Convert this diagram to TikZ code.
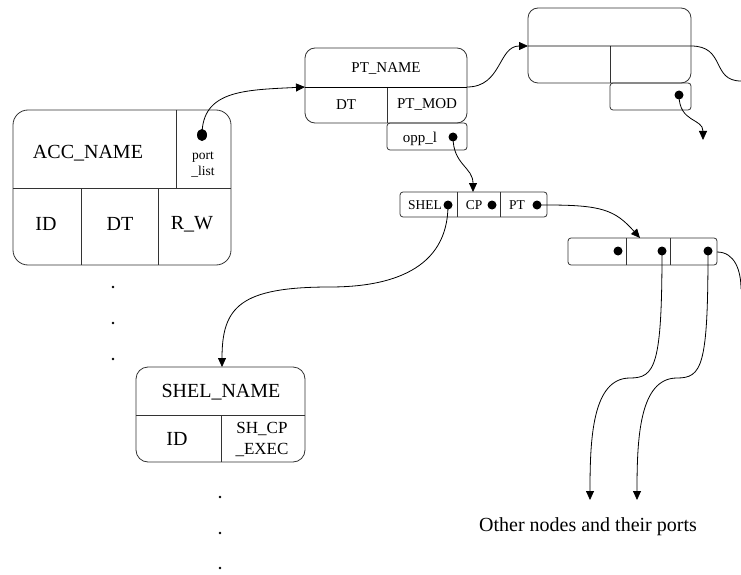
\documentclass[tikz,border=0pt]{standalone}
\usepackage{fontspec}
\setmainfont{Liberation Serif}
\usetikzlibrary{arrows.meta,shapes.geometric}
\begin{document}
\begin{tikzpicture}[x=1pt,y=-1pt,
  box/.style={draw=black!80,line width=0.8pt},
  plainline/.style={draw=black,line width=0.8pt},
  conn/.style={draw=black,line width=0.8pt,-{Triangle[length=9pt,width=8pt]}},
  dotn/.style={circle,fill=black,inner sep=0pt,minimum size=9pt},
  bigdot/.style={ellipse,fill=black,inner sep=0pt,minimum width=10pt,minimum height=12pt},
  vdot/.style={circle,fill=black,inner sep=0pt,minimum size=2.8pt},
  tbig/.style={font=\fontsize{20}{22}\selectfont,inner sep=0pt},
  tmid/.style={font=\fontsize{15}{17}\selectfont,inner sep=0pt},
  tsmall/.style={font=\fontsize{13.5}{16}\selectfont,inner sep=0pt},
  tport/.style={font=\fontsize{13.5}{16}\selectfont,inner sep=0pt,align=center},
  tsh/.style={font=\fontsize{17}{21}\selectfont,inner sep=0pt,align=center}]
\useasboundingbox (0,0) rectangle (741,575);

% ACC box
\draw[box,rounded corners=15pt] (13,110) rectangle (231,265);
\draw[box] (13,188) -- (231,188) (176,110) -- (176,188) (81,188) -- (81,265) (158,188) -- (158,265);
\node[tbig] (accname) at (88,153) {ACC\_NAME};
\node[tport] (portlist) at (203,165) {port\\\_list};
\node[tbig] (accid) at (46,224) {ID};
\node[tbig] (accdt) at (120,224) {DT};
\node[tbig] (accrw) at (192,224) {R\_W};
\node[bigdot] (accdot) at (202,135) {};

% PT_NAME box
\draw[box,rounded corners=10pt] (305,48) rectangle (467,123);
\draw[box] (387,87) -- (387,123);
\draw[box,rounded corners=3pt] (387,123) rectangle (467,150);
\node[tmid] (ptname) at (386,69) {PT\_NAME};
\node[tmid] (ptdt) at (346,105) {DT};
\node[tmid] (ptmod) at (427,105) {PT\_MOD};
\node[tmid] (opp) at (420,139) {opp\_l};
\node[dotn] (oppdot) at (453,137) {};
\coordinate (ptL) at (305,87);
\coordinate (ptR) at (467,87);

% top right box
\draw[box,rounded corners=10pt] (528,8) rectangle (691,83);
\draw[box] (610,46) -- (610,83);
\draw[box,rounded corners=3pt] (610,83) rectangle (691,110);
\node[dotn] (trdot) at (679,95) {};
\coordinate (trL) at (528,46);
\coordinate (trR) at (691,46);
\coordinate (trend) at (741,81);
\coordinate (trtip) at (703,140);

% SHEL / CP / PT box
\draw[box,rounded corners=3pt] (400,192) rectangle (547,217);
\draw[box] (457,192) -- (457,217) (500,192) -- (500,217);
\node[tsmall] (shel) at (425,205) {SHEL};
\node[tsmall] (cp) at (474,205) {CP};
\node[tsmall] (pt) at (517,205) {PT};
\node[dotn] (sheldot) at (448,205) {};
\node[dotn] (cpdot) at (492,205) {};
\node[dotn] (ptdot) at (537,205) {};
\coordinate (cptop) at (473,192);

% right box
\draw[box,rounded corners=3pt] (568,238) rectangle (717,265);
\draw[box] (626,238) -- (626,265) (670,238) -- (670,265);
\node[dotn] (rd1) at (618,251) {};
\node[dotn] (rd2) at (662,251) {};
\node[dotn] (rd3) at (708,251) {};
\coordinate (rtop) at (640,238);
\coordinate (rR) at (717,252);
\coordinate (rend) at (741,289);
\coordinate (tipA) at (590,500);
\coordinate (tipB) at (637,500);

% SHEL_NAME box
\draw[box,rounded corners=12pt] (136,367) rectangle (305,462);
\draw[box] (136,415) -- (305,415) (221,415) -- (221,462);
\node[tbig] (shelname) at (221,392) {SHEL\_NAME};
\node[tbig] (shid) at (177,439) {ID};
\node[tsh] (shcp) at (262,439) {SH\_CP\\\_EXEC};
\coordinate (sheltop) at (222,367);

% ellipsis dots
\node[vdot] (v1) at (113,287) {};
\node[vdot] (v2) at (113,323) {};
\node[vdot] (v3) at (113,359) {};
\node[vdot] (v4) at (220,497) {};
\node[vdot] (v5) at (220,533) {};
\node[vdot] (v6) at (220,568) {};

\node[tbig] (other) at (588,527) {Other nodes and their ports};

% connectors
\draw[conn] (accdot.center) .. controls +(0,-45) and +(-60,3) .. (ptL);
\draw[plainline] (ptL) -- (ptR);
\draw[conn] (ptR) .. controls +(35,0) and +(-30,0) .. (trL);
\draw[plainline] (trL) -- (trR) .. controls +(35,0) and +(-30,0) .. (trend);
\draw[conn] (trdot.center) .. controls +(0,28) and +(0,-22) .. (trtip);
\draw[conn] (oppdot.center) .. controls +(0,28) and +(0,-25) .. (cptop);
\draw[conn] (sheldot.center) .. controls +(0,65) and +(60,0) .. (330,287) .. controls +(-90,0) and +(0,-60) .. (sheltop);
\draw[conn] (ptdot.center) -- (547,205) .. controls +(55,0) and +(-25,-28) .. (rtop);
\draw[conn] (rd2.center) .. controls +(0,115) and +(25,0) .. (630,378) .. controls +(-38,0) and +(0,-60) .. (tipA);
\draw[conn] (rd3.center) .. controls +(0,115) and +(25,0) .. (677,378) .. controls +(-38,0) and +(0,-60) .. (tipB);
\draw[plainline] (rR) .. controls +(18,0) and +(0,-18) .. (rend);
\end{tikzpicture}
\end{document}
